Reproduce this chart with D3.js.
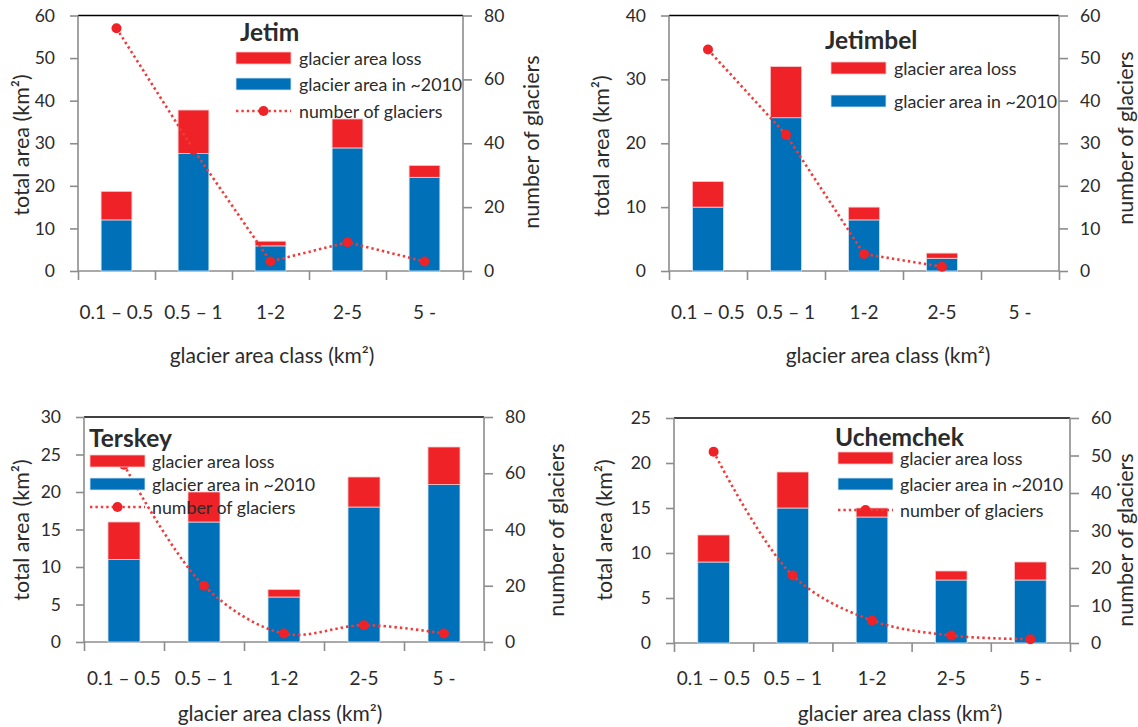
<!DOCTYPE html>
<html><head><meta charset="utf-8">
<script src="https://cdn.jsdelivr.net/npm/d3@7/dist/d3.min.js"></script>
<style>
body{margin:0;background:#fff}
text{font-family:Lato,"Open Sans",sans-serif;fill:#2b2b2b}
</style>
</head><body>
<svg id="chart" width="1138" height="727"></svg>
<script>
// ---------- data ----------
const categories = ["0.1 \u2013 0.5", "0.5 \u2013 1", "1-2", "2-5", "5 -"];
const seriesNames = ["glacier area loss", "glacier area in ~2010", "number of glaciers"];

const jetimArea2010 = [12, 27.6, 5.9, 28.9, 22];
const jetimLoss     = [6.7, 10.2, 1.1, 6.8, 2.8];
const jetimCount    = [76, 38, 3, 9, 3];

const jetimbelArea2010 = [10, 24, 8, 2, 0];
const jetimbelLoss     = [4, 8, 2, 0.8, 0];
const jetimbelCount    = [52, 32, 4, 1, null];

const terskeyArea2010 = [11, 16, 6, 18, 21];
const terskeyLoss     = [5, 4, 1, 4, 5];
const terskeyCount    = [63, 20, 3, 6, 3];

const uchemchekArea2010 = [9, 15, 14, 7, 7];
const uchemchekLoss     = [3, 4, 1, 1, 2];
const uchemchekCount    = [51, 18, 6, 2, 1];

const leftTicksJetim = [0,10,20,30,40,50,60],  rightTicksJetim = [0,20,40,60,80];
const leftTicksJetimbel = [0,10,20,30,40],     rightTicksJetimbel = [0,10,20,30,40,50,60];
const leftTicksTerskey = [0,5,10,15,20,25,30], rightTicksTerskey = [0,20,40,60,80];
const leftTicksUchemchek = [0,5,10,15,20,25],  rightTicksUchemchek = [0,10,20,30,40,50,60];

// ---------- layout ----------
const panels = [
  { title:"Jetim", area:jetimArea2010, loss:jetimLoss, count:jetimCount,
    lt:leftTicksJetim, rt:rightTicksJetim, smooth:false, showLine:true,
    box:{l:78, r:463, t:15.5, b:271},
    titlePos:[240, 31], legX:236, legText:299, legRows:[58, 84, 111],
    yTitle:[21, 145], y2Title:[531, 142], xTitle:[272, 354], xLab:311 },
  { title:"Jetimbel", area:jetimbelArea2010, loss:jetimbelLoss, count:jetimbelCount,
    lt:leftTicksJetimbel, rt:rightTicksJetimbel, smooth:false, showLine:false,
    box:{l:669, r:1059, t:15.5, b:271},
    titlePos:[825, 39], legX:831, legText:894, legRows:[68, 101],
    yTitle:[601, 146], y2Title:[1125, 138], xTitle:[888, 354], xLab:311 },
  { title:"Terskey", area:terskeyArea2010, loss:terskeyLoss, count:terskeyCount,
    lt:leftTicksTerskey, rt:rightTicksTerskey, smooth:true, showLine:true,
    box:{l:84, r:484, t:417, b:642},
    titlePos:[89, 437], legX:90, legText:152, legRows:[461, 484, 507],
    yTitle:[21, 530], y2Title:[556, 530], xTitle:[280, 712], xLab:677 },
  { title:"Uchemchek", area:uchemchekArea2010, loss:uchemchekLoss, count:uchemchekCount,
    lt:leftTicksUchemchek, rt:rightTicksUchemchek, smooth:true, showLine:true,
    box:{l:674, r:1070, t:418, b:643},
    titlePos:[835, 436], legX:838, legText:900, legRows:[458, 484, 510],
    yTitle:[604, 530], y2Title:[1125, 540], xTitle:[900, 712], xLab:677 }
];

const RED = "#ee2227", BLUE = "#0070b8", LINE = "#f23a3a", AXIS = "#8c8c8c";
const svg = d3.select("#chart");

panels.forEach(p => {
  const g = svg.append("g");
  const {l, r, t, b} = p.box;
  const x = d3.scaleBand().domain(categories).range([l, r]).padding(0);
  const xb = d3.scaleLinear().domain([0, categories.length]).range([l, r]);
  const y = d3.scaleLinear().domain([0, d3.max(p.lt)]).range([b, t]);
  const y2 = d3.scaleLinear().domain([0, d3.max(p.rt)]).range([b, t]);
  const bw = x.bandwidth() * 0.4;

  // top border
  g.append("line").attr("x1", l).attr("x2", r).attr("y1", t).attr("y2", t)
    .attr("stroke", "#000").attr("stroke-width", 1.6);

  // left axis
  const ax = g.append("g").attr("transform", `translate(${l},0)`)
    .call(d3.axisLeft(y).tickValues(p.lt).tickSize(8).tickPadding(15).tickFormat(d3.format("d")));
  // right axis
  const ax2 = g.append("g").attr("transform", `translate(${r},0)`)
    .call(d3.axisRight(y2).tickValues(p.rt).tickSize(9).tickPadding(12).tickFormat(d3.format("d")));
  // bottom axis: tick marks at boundaries
  const axb = g.append("g").attr("transform", `translate(0,${b})`)
    .call(d3.axisBottom(xb).tickValues(d3.range(categories.length + 1)).tickSize(9).tickFormat(""));
  [ax, ax2, axb].forEach(a => {
    a.selectAll("path.domain").attr("stroke", AXIS).attr("stroke-width", 1.6);
    a.selectAll(".tick line").attr("stroke", AXIS).attr("stroke-width", 1.6);
    a.selectAll(".tick text").attr("font-size", 17.5).attr("fill", "#2b2b2b")
      .attr("font-family", "Lato, sans-serif");
  });
  ax.select("path.domain").attr("d", `M0,${b}V${t}`);
  ax2.select("path.domain").attr("d", `M0,${b}V${t}`);
  axb.select("path.domain").attr("d", `M${l},0H${r}`);

  // category labels
  g.selectAll(".cat").data(categories).join("text")
    .attr("x", d => x(d) + x.bandwidth() / 2).attr("y", p.xLab)
    .attr("text-anchor", "middle").attr("dominant-baseline", "central")
    .attr("font-size", 19).text(d => d);

  // bars
  const rows = categories.map((c, i) => ({c, area: p.area[i], loss: p.loss[i]}));
  g.selectAll(".blue").data(rows.filter(d => d.area > 0)).join("rect")
    .attr("x", d => x(d.c) + (x.bandwidth() - bw) / 2).attr("width", bw)
    .attr("y", d => y(d.area)).attr("height", d => y(0) - y(d.area))
    .attr("fill", BLUE).attr("stroke", "#d6e6f4").attr("stroke-width", 0.8);
  g.selectAll(".red").data(rows.filter(d => d.loss > 0)).join("rect")
    .attr("x", d => x(d.c) + (x.bandwidth() - bw) / 2).attr("width", bw)
    .attr("y", d => y(d.area + d.loss)).attr("height", d => y(d.area) - y(d.area + d.loss))
    .attr("fill", RED).attr("stroke", "#f6c9ca").attr("stroke-width", 0.8);

  // number of glaciers line
  const pts = categories.map((c, i) => ({c, v: p.count[i]})).filter(d => d.v != null);
  const line = d3.line().x(d => x(d.c) + x.bandwidth() / 2).y(d => y2(d.v))
    .curve(p.smooth ? d3.curveCatmullRom.alpha(0.5) : d3.curveLinear);
  g.append("path").datum(pts).attr("d", line).attr("fill", "none")
    .attr("stroke", LINE).attr("stroke-width", 2.6).attr("stroke-dasharray", "2.4,3")
    .attr("stroke-linecap", "butt");
  g.selectAll(".dot").data(pts).join("circle")
    .attr("cx", d => x(d.c) + x.bandwidth() / 2).attr("cy", d => y2(d.v)).attr("r", 5)
    .attr("fill", RED);

  // legend
  const lg = g.append("g");
  lg.append("text").attr("x", p.titlePos[0]).attr("y", p.titlePos[1])
    .attr("dominant-baseline", "central").attr("font-size", 24.5).attr("font-weight", "bold")
    .attr("fill", "#000").text(p.title);
  const sw = 55, sh = 12;
  lg.append("rect").attr("x", p.legX).attr("y", p.legRows[0] - sh / 2).attr("width", sw).attr("height", sh)
    .attr("fill", RED).attr("stroke", "#f6c9ca").attr("stroke-width", 0.8);
  lg.append("rect").attr("x", p.legX).attr("y", p.legRows[1] - sh / 2).attr("width", sw).attr("height", sh)
    .attr("fill", BLUE).attr("stroke", "#d6e6f4").attr("stroke-width", 0.8);
  if (p.showLine) {
    lg.append("line").attr("x1", p.legX).attr("x2", p.legX + sw)
      .attr("y1", p.legRows[2]).attr("y2", p.legRows[2])
      .attr("stroke", LINE).attr("stroke-width", 2.6).attr("stroke-dasharray", "2.4,3");
    lg.append("circle").attr("cx", p.legX + sw / 2).attr("cy", p.legRows[2]).attr("r", 5).attr("fill", RED);
  }
  const names = p.showLine ? seriesNames : seriesNames.slice(0, 2);
  lg.selectAll(".lt").data(names).join("text")
    .attr("x", p.legText).attr("y", (d, i) => p.legRows[i])
    .attr("dominant-baseline", "central").attr("font-size", 17.8).attr("fill", "#333")
    .text(d => d);

  // axis titles
  g.append("text").attr("transform", `translate(${p.yTitle[0]},${p.yTitle[1]}) rotate(-90)`)
    .attr("text-anchor", "middle").attr("dominant-baseline", "central").attr("font-size", 21.5)
    .text("total area (km\u00b2)");
  g.append("text").attr("transform", `translate(${p.y2Title[0]},${p.y2Title[1]}) rotate(-90)`)
    .attr("text-anchor", "middle").attr("dominant-baseline", "central").attr("font-size", 21.5)
    .text("number of glaciers");
  g.append("text").attr("x", p.xTitle[0]).attr("y", p.xTitle[1])
    .attr("text-anchor", "middle").attr("dominant-baseline", "central").attr("font-size", 21)
    .text("glacier area class (km\u00b2)");
});
</script>
</body></html>
